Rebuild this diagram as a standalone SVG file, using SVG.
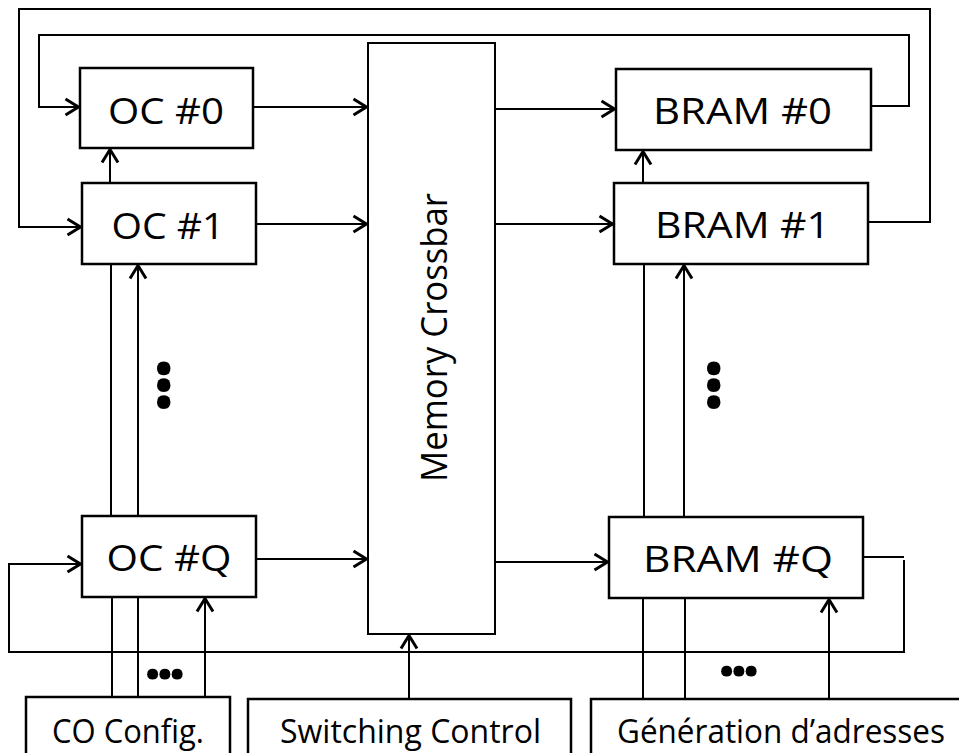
<svg xmlns="http://www.w3.org/2000/svg" width="959" height="753" viewBox="0 0 959 753">
<style>
.box{fill:#fff;stroke:#000;stroke-width:2.5}
.ln{fill:none;stroke:#000;stroke-width:2}
.lbl{font-family:"Open Sans","Liberation Sans",sans-serif;font-size:37px;fill:#000;text-anchor:middle}
.sm{font-family:"Open Sans","Liberation Sans",sans-serif;font-size:32px;fill:#000;text-anchor:middle}
.hdots{font-family:"Open Sans","Liberation Sans",sans-serif;font-size:64px;font-weight:700;fill:#000;letter-spacing:-6px}
.vdots{font-family:"Open Sans","Liberation Sans",sans-serif;font-size:80px;font-weight:700;fill:#000;letter-spacing:-6px}
</style>
<defs>
<marker id="arr" markerUnits="userSpaceOnUse" markerWidth="24" markerHeight="24" viewBox="-18 -12 24 24" refX="0" refY="0" orient="auto" overflow="visible">
<path d="M-13,-8 L0,0 L-13,8" fill="none" stroke="#000" stroke-width="3" stroke-linejoin="miter"/>
</marker>
</defs>
<rect width="959" height="753" fill="#fff"/>

<g id="crossbar">
<rect class="box" x="368" y="43" width="127" height="591" style="stroke-width:2"/>
<text class="lbl" transform="translate(447,337.5) rotate(-90)" x="0" y="0" textLength="289" lengthAdjust="spacingAndGlyphs">Memory Crossbar</text>
</g>

<g id="oc0"><rect class="box" x="80" y="68" width="173" height="80"/><text class="lbl" x="166" y="124" textLength="116" lengthAdjust="spacingAndGlyphs">OC #0</text></g>
<g id="oc1"><rect class="box" x="82" y="183" width="174" height="81"/><text class="lbl" x="168" y="239" textLength="113" lengthAdjust="spacingAndGlyphs">OC #1</text></g>
<g id="ocq"><rect class="box" x="82" y="516" width="174" height="81"/><text class="lbl" x="169" y="571" textLength="125" lengthAdjust="spacingAndGlyphs">OC #Q</text></g>

<g id="bram0"><rect class="box" x="616" y="69" width="255" height="81"/><text class="lbl" x="742.5" y="124" textLength="179" lengthAdjust="spacingAndGlyphs">BRAM #0</text></g>
<g id="bram1"><rect class="box" x="614" y="183" width="254" height="81"/><text class="lbl" x="742.5" y="238" textLength="175" lengthAdjust="spacingAndGlyphs">BRAM #1</text></g>
<g id="bramq"><rect class="box" x="609" y="517" width="254" height="81"/><text class="lbl" x="738" y="572" textLength="190" lengthAdjust="spacingAndGlyphs">BRAM #Q</text></g>

<g id="coconfig"><rect class="box" x="26" y="697" width="204" height="70"/><text class="sm" x="128" y="743" textLength="152" lengthAdjust="spacingAndGlyphs">CO Config.</text></g>
<g id="switching"><rect class="box" x="248" y="699" width="323" height="70"/><text class="sm" x="410.5" y="743" textLength="261" lengthAdjust="spacingAndGlyphs">Switching Control</text></g>
<g id="generation"><rect class="box" x="591" y="699" width="380" height="70"/><text class="sm" x="781" y="743" textLength="328" lengthAdjust="spacingAndGlyphs">Génération d’adresses</text></g>

<g id="connectors">
<path class="ln" d="M868,222 H930 V9 H19 V227 H80.5" marker-end="url(#arr)"/>
<path class="ln" d="M871,106 H909 V35 H39 V107 H78.5" marker-end="url(#arr)"/>
<path class="ln" d="M863,557 H904 M904,560 V652 H9 V564 H80.5" marker-end="url(#arr)"/>
<path class="ln" d="M253,107 H366.5" marker-end="url(#arr)"/>
<path class="ln" d="M256,224 H366.5" marker-end="url(#arr)"/>
<path class="ln" d="M256,559 H366.5" marker-end="url(#arr)"/>
<path class="ln" d="M495,109 H614.5" marker-end="url(#arr)"/>
<path class="ln" d="M495,224 H612.5" marker-end="url(#arr)"/>
<path class="ln" d="M495,562 H607.5" marker-end="url(#arr)"/>
<path class="ln" d="M110,183 V149.5" marker-end="url(#arr)"/>
<path class="ln" d="M643,183 V151.5" marker-end="url(#arr)"/>
<path class="ln" d="M111,264 V516"/>
<path class="ln" d="M138,516 V265.5" marker-end="url(#arr)"/>
<path class="ln" d="M112,597 V697"/>
<path class="ln" d="M138,597 V697"/>
<path class="ln" d="M205,697 V598.5" marker-end="url(#arr)"/>
<path class="ln" d="M644,264 V517"/>
<path class="ln" d="M684,517 V265.5" marker-end="url(#arr)"/>
<path class="ln" d="M643,598 V699"/>
<path class="ln" d="M685,598 V699"/>
<path class="ln" d="M829,699 V599.5" marker-end="url(#arr)"/>
<path class="ln" d="M409,699 V635.5" marker-end="url(#arr)"/>
</g>

<text class="hdots" x="143.5" y="678.5">...</text>
<text class="hdots" x="717.5" y="675.5">...</text>
<text class="vdots" transform="translate(157.5,357) rotate(90)" x="0" y="0">...</text>
<text class="vdots" transform="translate(707.5,357) rotate(90)" x="0" y="0">...</text>
</svg>
